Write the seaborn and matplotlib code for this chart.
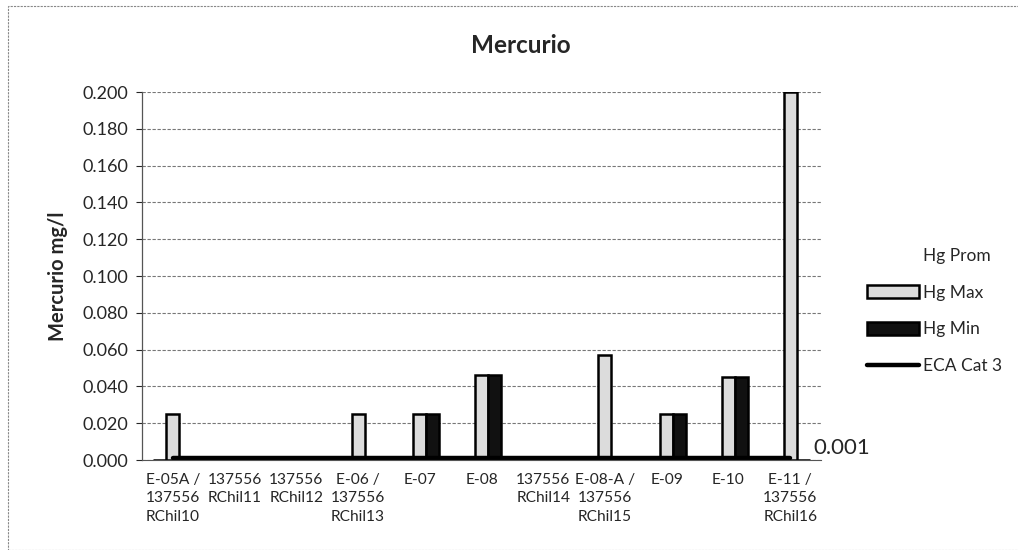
import matplotlib
matplotlib.use("Agg")
import matplotlib.pyplot as plt
import seaborn as sns
import pandas as pd
import numpy as np
from matplotlib.patches import Rectangle

# ---- data ----
categories = ["E-05A /\n137556\nRChil10", "137556\nRChil11", "137556\nRChil12",
              "E-06 /\n137556\nRChil13", "E-07", "E-08", "137556\nRChil14",
              "E-08-A /\n137556\nRChil15", "E-09", "E-10", "E-11 /\n137556\nRChil16"]
hg_prom = [0, 0, 0, 0, 0, 0, 0, 0, 0, 0, 0]
hg_max = [0.025, 0, 0, 0.025, 0.025, 0.046, 0, 0.057, 0.025, 0.045, 0.200]
hg_min = [0, 0, 0, 0, 0.025, 0.046, 0, 0, 0.025, 0.045, 0]
eca_cat3 = [0.001] * 11
series_names = ["Hg Prom", "Hg Max", "Hg Min"]
eca_label = "ECA Cat 3"
y_ticks = [0.000, 0.020, 0.040, 0.060, 0.080, 0.100, 0.120, 0.140, 0.160, 0.180, 0.200]

sns.set_style("white")
plt.rcParams['font.family'] = ['Lato', 'DejaVu Sans']

df = pd.DataFrame({
    "cat": categories * 3,
    "serie": [series_names[0]] * 11 + [series_names[1]] * 11 + [series_names[2]] * 11,
    "val": hg_prom + hg_max + hg_min,
})

fig = plt.figure(figsize=(10.18, 5.5), dpi=100)
ax = fig.add_axes([0.1395, 0.1636, 0.667, 0.669])

palette = {"Hg Prom": "white", "Hg Max": "#dcdcdc", "Hg Min": "#111111"}
sns.barplot(data=df, x="cat", y="val", hue="serie", order=categories,
            hue_order=series_names, palette=palette, width=0.63,
            edgecolor="black", linewidth=1.8, ax=ax, legend=True, saturation=1)

# Hide the edge of the (empty) Hg Prom series
for cont in ax.containers:
    if cont.get_label() == "Hg Prom":
        for p in cont:
            p.set_edgecolor("none")
            p.set_linewidth(0)

eca_df = pd.DataFrame({"cat": categories, "val": eca_cat3})
sns.lineplot(data=eca_df, x="cat", y="val", color="black", linewidth=3.2,
             ax=ax, label=eca_label, sort=False)

ax.set_ylim(0, 0.2)
ax.set_xlim(-0.5, len(categories) - 0.5)
ax.set_yticks(y_ticks)
ax.set_yticklabels([f"{v:.3f}" for v in y_ticks], fontsize=13)
ax.set_xticks(range(len(categories)))
ax.set_xticklabels(categories, fontsize=11.2, linespacing=1.45, va="top", multialignment="center")
ax.tick_params(axis="x", length=0, pad=9)
ax.set_xticks(np.arange(-0.5, len(categories), 1), minor=True)
ax.tick_params(axis="x", which="minor", length=4, direction="out", width=0.8)
ax.tick_params(axis="y", length=4, direction="out", width=0.8, pad=6, left=True)

ax.grid(axis="y", color="#777777", linestyle=(0, (3, 1.5)), linewidth=0.8)
ax.set_axisbelow(True)
for s in ["top", "right"]:
    ax.spines[s].set_visible(False)
ax.spines["left"].set_color("#555555")
ax.spines["left"].set_linewidth(0.9)
ax.spines["bottom"].set_color("#555555")

ax.set_xlabel("")
ax.set_ylabel("Mercurio mg/l", fontsize=14.5, fontweight="bold", labelpad=10)
fig.text(0.512, 0.917, "Mercurio", fontsize=17.5, fontweight="bold", ha="center", va="center")

# data label for ECA line at last point
ax.annotate(f"{eca_cat3[-1]:.3f}", xy=(len(categories) - 1, eca_cat3[-1]),
            xytext=(17, 0), textcoords="offset points", fontsize=16, va="bottom", ha="left",
            annotation_clip=False)

# legend
handles, labels = ax.get_legend_handles_labels()
order = [labels.index(n) for n in series_names + [eca_label]]
leg = ax.legend([handles[i] for i in order], [labels[i] for i in order],
                loc="center left", bbox_to_anchor=(1.045, 0.405), frameon=False,
                fontsize=12.5, handlelength=3.0, handleheight=0.8, labelspacing=1.2,
                handletextpad=0.2)
for h, t in zip(leg.legend_handles, leg.get_texts()):
    if t.get_text() == "Hg Prom":
        h.set_edgecolor("none")
        h.set_facecolor("none")

# outer frame
fig.patches.append(Rectangle((0.008, 0.0), 1.2, 0.99, transform=fig.transFigure,
                             fill=False, edgecolor="#888888", linewidth=0.8,
                             linestyle=(0, (2, 1))))

fig.savefig("out.png", dpi=100)
